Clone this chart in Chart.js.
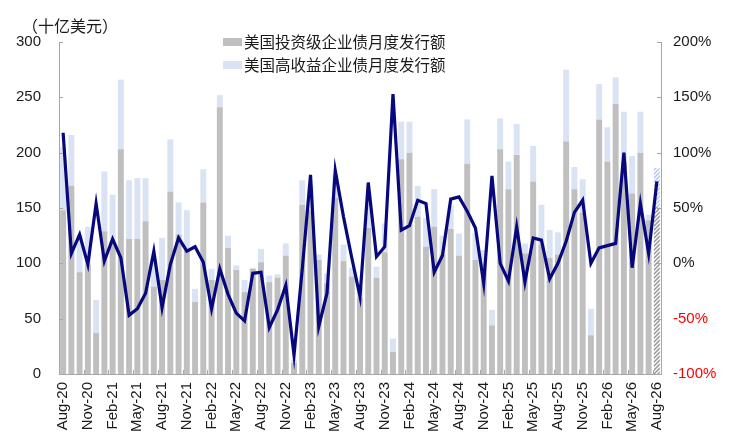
<!DOCTYPE html>
<html>
<head>
<meta charset="utf-8">
<script src="https://cdn.jsdelivr.net/npm/chart.js@4.4.1/dist/chart.umd.min.js"></script>
<style>
html, body { margin: 0; padding: 0; background: #fff; }
#wrap { width: 733px; height: 447px; }
</style>
</head>
<body>
<div id="wrap"><canvas id="bondchart" width="733" height="447"></canvas></div>
<script>
// Monthly categories, Aug-20 .. Aug-26
var months = [
    'Aug-20','Sep-20','Oct-20','Nov-20','Dec-20',
    'Jan-21','Feb-21','Mar-21','Apr-21','May-21','Jun-21','Jul-21','Aug-21','Sep-21','Oct-21','Nov-21','Dec-21',
    'Jan-22','Feb-22','Mar-22','Apr-22','May-22','Jun-22','Jul-22','Aug-22','Sep-22','Oct-22','Nov-22','Dec-22',
    'Jan-23','Feb-23','Mar-23','Apr-23','May-23','Jun-23','Jul-23','Aug-23','Sep-23','Oct-23','Nov-23','Dec-23',
    'Jan-24','Feb-24','Mar-24','Apr-24','May-24','Jun-24','Jul-24','Aug-24','Sep-24','Oct-24','Nov-24','Dec-24',
    'Jan-25','Feb-25','Mar-25','Apr-25','May-25','Jun-25','Jul-25','Aug-25','Sep-25','Oct-25','Nov-25','Dec-25',
    'Jan-26','Feb-26','Mar-26','Apr-26','May-26','Jun-26','Jul-26','Aug-26'
];

// Investment grade issuance (bn USD)
var igIssuance = [
    148, 170, 92, 99, 37,
    129, 120, 203, 122, 122, 138, 79, 85, 165, 126, 112, 65,
    155, 85, 241, 114, 94, 74, 95, 101, 83, 87, 107, 10,
    153, 148, 103, 82, 159, 102, 88, 69, 132, 87, 110, 20,
    194, 200, 142, 115, 133, 108, 131, 107, 190, 103, 100, 44,
    203, 167, 198, 109, 174, 117, 105, 108, 210, 167, 146, 35,
    230, 192, 244, 192, 163, 200, 139, 151
];

// High yield issuance (bn USD)
var hyIssuance = [
    57, 46, 34, 34, 30,
    54, 42, 63, 53, 55, 39, 24, 38, 47, 29, 36, 12,
    30, 10, 11, 11, 4, 11, 1, 12, 6, 3, 11, 3,
    22, 23, 5, 9, 21, 15, 8, 10, 22, 10, 26, 12,
    34, 28, 28, 26, 34, 17, 21, 20, 40, 24, 12, 14,
    28, 25, 28, 9, 32, 36, 25, 20, 65, 20, 30, 24,
    32, 31, 24, 45, 34, 37, 5, 35
];

// Year-on-year change of total issuance (%), right axis
var yoyGrowth = [
    118, 9, 26, -1, 54,
    2, 22, 5, -47, -41, -27, 11, -40, -1, 23, 11, 15,
    1, -41, -5, -28, -45, -52, -9, -8, -58, -42, -20, -83,
    -5, 80, -57, -27, 84, 42, 5, -30, 73, 6, 15, 153,
    30, 34, 57, 54, -8, 7, 58, 60, 47, 32, -18, 79,
    0, -16, 33, -17, 23, 21, -14, 0, 20, 46, 57, 0,
    14, 16, 18, 100, -4, 54, 9, 74
];

var leftTicks = [0, 50, 100, 150, 200, 250, 300];
var rightTicks = [-100, -50, 0, 50, 100, 150, 200];

var igName = '美国投资级企业债月度发行额';
var hyName = '美国高收益企业债月度发行额';
var unitText = '（十亿美元）';

var igColor = '#bfbfbf';
var hyColor = '#dae3f3';
var lineColor = '#08087e';
var axisColor = '#a6a6a6';
var textColor = '#1a1a1a';
var latin = '"Liberation Sans", Arial, sans-serif';
var cjk = '"Noto Sans CJK SC", "Noto Sans", sans-serif';

// diagonal hatch for the last (partial) month
function makeHatch(color) {
    var p = document.createElement('canvas');
    p.width = 4;
    p.height = 4;
    var g = p.getContext('2d');
    g.fillStyle = '#ffffff';
    g.fillRect(0, 0, 4, 4);
    g.strokeStyle = color;
    g.lineWidth = 1.5;
    g.beginPath();
    g.moveTo(0, 4); g.lineTo(4, 0);
    g.moveTo(-1, 1); g.lineTo(1, -1);
    g.moveTo(3, 5); g.lineTo(5, 3);
    g.stroke();
    return g.createPattern(p, 'repeat');
}

var lastIdx = months.length - 1;
var igColors = months.map(function(m, i) { return i === lastIdx ? makeHatch('#959595') : igColor; });
var hyColors = months.map(function(m, i) { return i === lastIdx ? makeHatch('#b4c6ea') : hyColor; });

// inward tick marks, unit label and legend
var decorPlugin = {
    id: 'decor',
    afterDraw: function(chart) {
        var c = chart.ctx;
        var area = chart.chartArea;
        var xs = chart.scales.x, ys = chart.scales.y, ys1 = chart.scales.y1;
        c.save();
        c.strokeStyle = axisColor;
        c.lineWidth = 1;
        leftTicks.forEach(function(v) {
            var py = Math.round(ys.getPixelForValue(v)) + 0.5;
            c.beginPath(); c.moveTo(area.left, py); c.lineTo(area.left + 4, py); c.stroke();
        });
        rightTicks.forEach(function(v) {
            var py = Math.round(ys1.getPixelForValue(v)) + 0.5;
            c.beginPath(); c.moveTo(area.right, py); c.lineTo(area.right - 4, py); c.stroke();
        });
        var half = (xs.getPixelForValue(1) - xs.getPixelForValue(0)) / 2;
        for (var k = 3; k < months.length; k += 3) {
            var px = Math.round(xs.getPixelForValue(k) - half) + 0.5;
            c.beginPath(); c.moveTo(px, area.bottom); c.lineTo(px, area.bottom - 4); c.stroke();
        }

        c.fillStyle = textColor;
        c.textBaseline = 'middle';
        c.textAlign = 'left';
        c.font = '16px ' + cjk;
        c.fillText(unitText, 22, 26);

        c.font = '15.5px ' + cjk;
        c.fillStyle = igColor;
        c.fillRect(223, 38, 19, 8);
        c.fillStyle = hyColor;
        c.fillRect(223, 61, 19, 8);
        c.fillStyle = textColor;
        c.fillText(igName, 244, 42);
        c.fillText(hyName, 244, 65);
        c.restore();
    }
};

var ctx = document.getElementById('bondchart');
var bondChart = new Chart(ctx, {
    type: 'bar',
    data: {
        labels: months,
        datasets: [
            {
                type: 'line',
                label: '同比',
                data: yoyGrowth,
                yAxisID: 'y1',
                borderColor: lineColor,
                borderWidth: 3.2,
                pointRadius: 0,
                tension: 0,
                order: 0
            },
            {
                label: igName,
                data: igIssuance,
                backgroundColor: igColors,
                yAxisID: 'y',
                stack: 'issuance',
                barPercentage: 0.72,
                categoryPercentage: 1.0,
                order: 1
            },
            {
                label: hyName,
                data: hyIssuance,
                backgroundColor: hyColors,
                yAxisID: 'y',
                stack: 'issuance',
                barPercentage: 0.72,
                categoryPercentage: 1.0,
                order: 2
            }
        ]
    },
    options: {
        responsive: false,
        animation: false,
        layout: { padding: { top: 42, left: 0, right: 0, bottom: 0 } },
        plugins: {
            legend: { display: false },
            tooltip: { enabled: false }
        },
        scales: {
            x: {
                stacked: true,
                grid: { display: false, drawTicks: false },
                border: { display: true, color: axisColor, width: 1 },
                ticks: {
                    autoSkip: false,
                    minRotation: 90,
                    maxRotation: 90,
                    padding: 8,
                    color: textColor,
                    font: { size: 15, family: latin },
                    callback: function(val, idx) { return idx % 3 === 0 ? months[idx] : ''; }
                },
                afterFit: function(scale) { scale.height = 73; }
            },
            y: {
                stacked: true,
                position: 'left',
                min: 0,
                max: 300,
                grid: { display: false, drawTicks: false },
                border: { display: true, color: axisColor, width: 1 },
                ticks: {
                    stepSize: 50,
                    padding: 18,
                    color: textColor,
                    font: { size: 15, family: latin }
                },
                afterFit: function(scale) { scale.width = 59; }
            },
            y1: {
                position: 'right',
                min: -100,
                max: 200,
                grid: { display: false, drawTicks: false },
                border: { display: true, color: axisColor, width: 1 },
                ticks: {
                    stepSize: 50,
                    padding: 12,
                    font: { size: 15, family: latin },
                    color: function(c) { return c.tick && c.tick.value < 0 ? '#ff0000' : textColor; },
                    callback: function(v) { return v + '%'; }
                },
                afterFit: function(scale) { scale.width = 72; }
            }
        }
    },
    plugins: [decorPlugin]
});
</script>
</body>
</html>
